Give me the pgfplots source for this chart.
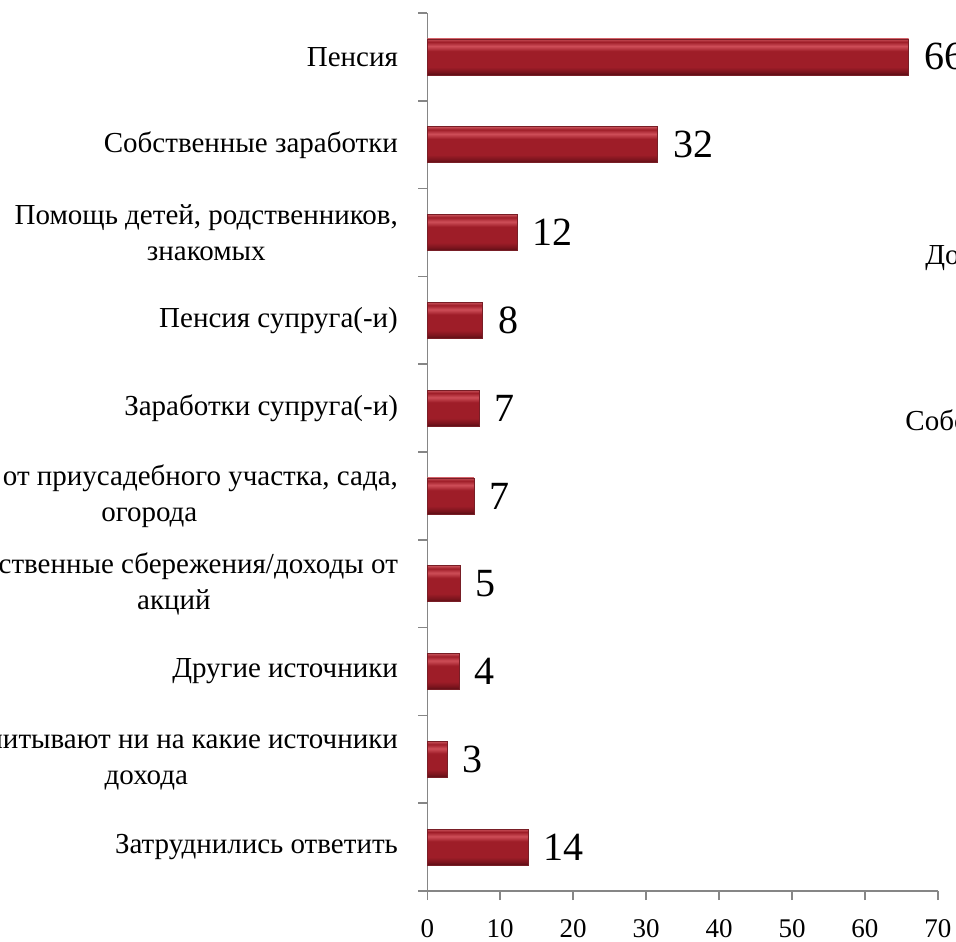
\documentclass[border=0pt]{standalone}
\usepackage{fontspec}
\setmainfont{Liberation Serif}
\usepackage{pgfplots}
\pgfplotsset{compat=1.18}

\definecolor{axisgray}{RGB}{134,134,134}
\definecolor{baredge}{RGB}{120,30,38}
\definecolor{bartop}{RGB}{200,82,90}
\definecolor{barhi}{RGB}{206,78,88}
\definecolor{barmid}{RGB}{158,29,40}
\definecolor{barlow}{RGB}{122,20,29}
\definecolor{barbot}{RGB}{88,14,20}

% bevelled look of the bars: the path spans 25bp (bottom) to 75bp (top)
\pgfdeclareverticalshading{barshade}{100bp}{
  color(0bp)=(barbot); color(25bp)=(barbot); color(29bp)=(barlow);
  color(36bp)=(barmid); color(58bp)=(barmid); color(65bp)=(barhi);
  color(71bp)=(barmid); color(75bp)=(bartop); color(100bp)=(bartop)}

\pgfplotsset{onebar/.style={draw=baredge, line width=0.4pt,
    shading=barshade, bar shift=0pt}}

\begin{document}
\begin{tikzpicture}
% the reference is cut at its edges: keep the same frame
\useasboundingbox (0pt,0pt) rectangle (478pt,-470.5pt);
\clip (0pt,0pt) rectangle (478pt,-470.5pt);
\begin{axis}[
    at={(213.65pt,-445.5pt)}, anchor=south west,
    scale only axis,
    width=255.3pt, height=439pt,
    xbar, bar width=18pt,
    xmin=0, xmax=70,
    ymin=-0.5, ymax=9.5,
    y dir=reverse,
    axis lines*=left,
    axis line style={draw=axisgray, line width=0.8pt},
    tick align=outside,
    major tick length=4.5pt,
    tick style={draw=axisgray, line width=0.8pt},
    xtick={0,10,...,70},
    ytick={-0.5,0.5,...,9.5},
    y tick label as interval,
    yticklabels={
        Пенсия,
        Собственные заработки,
        {Помощь детей, родственников,\\знакомых},
        Пенсия супруга(-и),
        Заработки супруга(-и),
        {Доходы от приусадебного участка, сада,\\огорода},
        {Собственные сбережения/доходы от\\акций},
        Другие источники,
        {Не рассчитывают ни на какие источники\\дохода},
        Затруднились ответить},
    yticklabel style={align=center, anchor=east, inner sep=0pt, xshift=-10pt,
        font=\fontsize{14.5}{18}\selectfont},
    xticklabel style={anchor=north, inner sep=0pt, yshift=-9.5pt,
        text depth=0pt, font=\fontsize{13.5}{16}\selectfont},
    /pgf/number format/assume math mode=true,
    point meta=explicit symbolic,
    nodes near coords,
    nodes near coords style={anchor=west, inner sep=0pt, xshift=7.5pt,
        font=\fontsize{20}{24}\selectfont, text=black},
    clip=false,
]
% one plot per bar so that each bar gets its own shading
\addplot[onebar] coordinates {(66,0) [66]};
\addplot[onebar] coordinates {(31.6,1) [32]};
\addplot[onebar] coordinates {(12.3,2) [12]};
\addplot[onebar] coordinates {(7.6,3) [8]};
\addplot[onebar] coordinates {(7.1,4) [7]};
\addplot[onebar] coordinates {(6.4,5) [7]};
\addplot[onebar] coordinates {(4.5,6) [5]};
\addplot[onebar] coordinates {(4.4,7) [4]};
\addplot[onebar] coordinates {(2.7,8) [3]};
\addplot[onebar] coordinates {(13.8,9) [14]};
\end{axis}
% fragments of a neighbouring chart that the reference also shows
\node[anchor=base west, inner sep=0pt, font=\fontsize{14.5}{18}\selectfont]
    at (462.5pt,-132pt) {Доходы};
\node[anchor=base west, inner sep=0pt, font=\fontsize{14.5}{18}\selectfont]
    at (452.5pt,-215pt) {Собственные};
\end{tikzpicture}
\end{document}
